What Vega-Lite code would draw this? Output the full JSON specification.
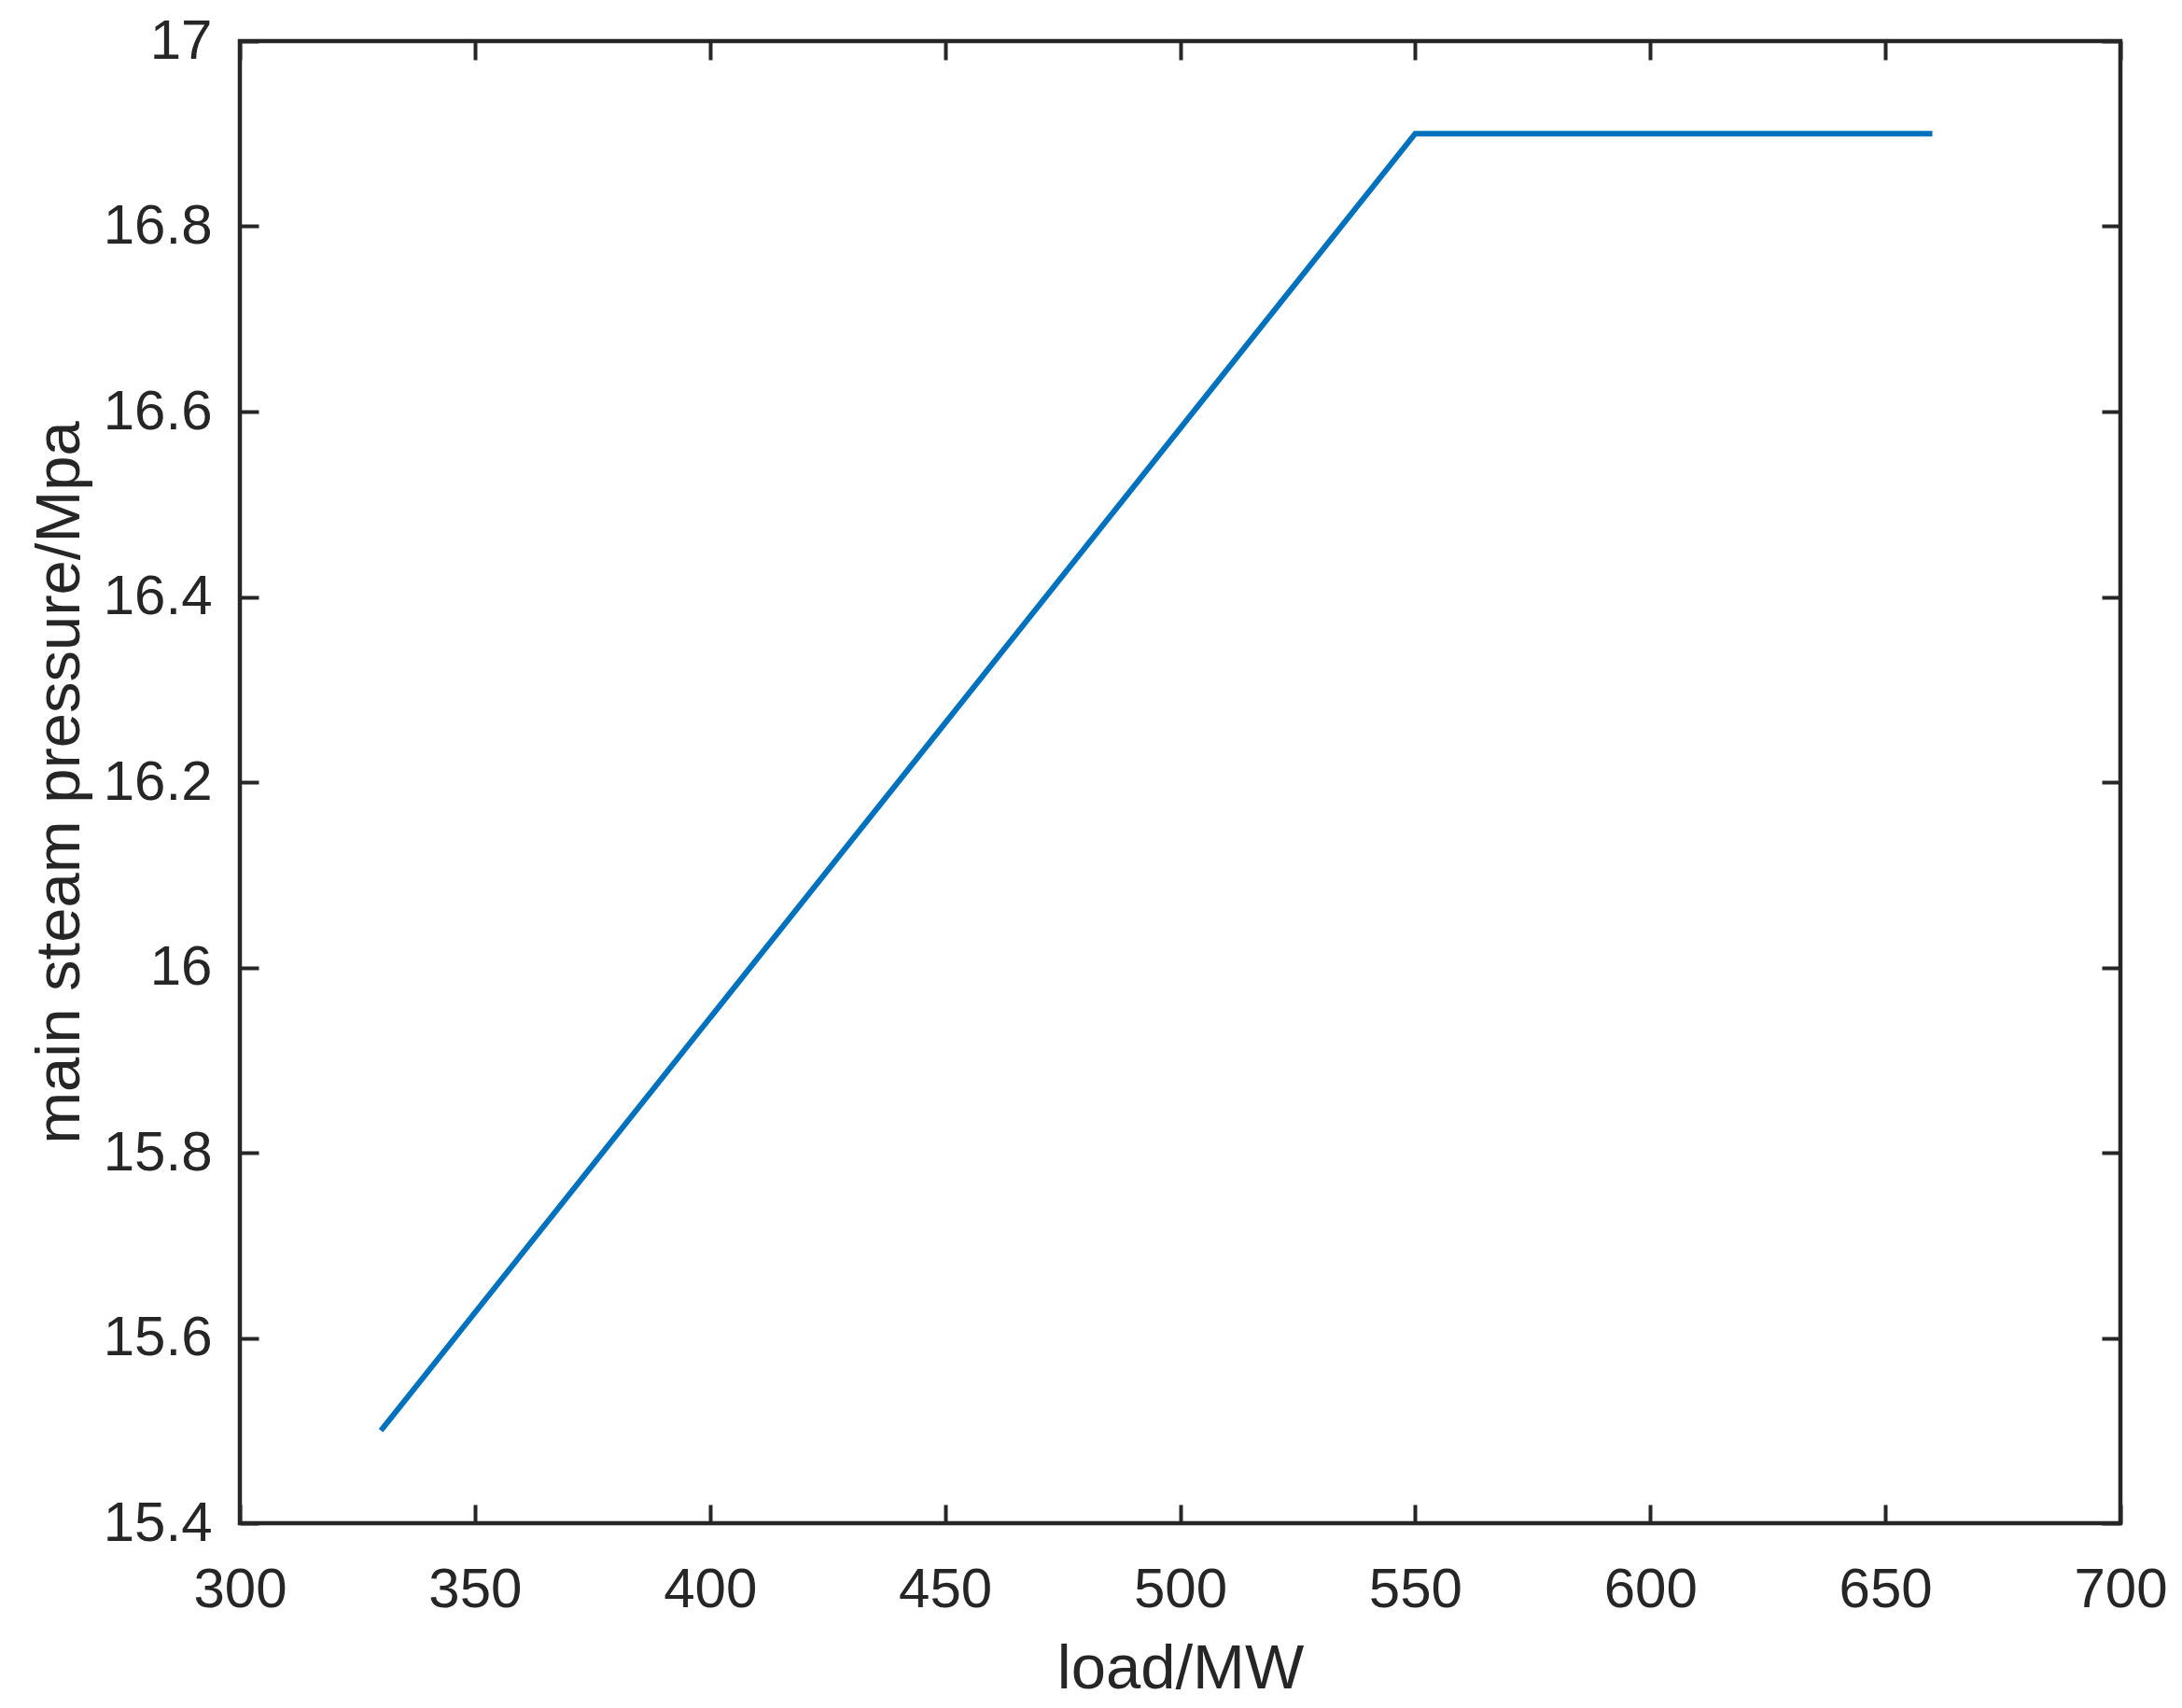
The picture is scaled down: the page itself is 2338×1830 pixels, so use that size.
{
  "$schema": "https://vega.github.io/schema/vega-lite/v6.json",
  "width": 2015,
  "height": 1588,
  "autosize": "none",
  "padding": {"left": 257, "top": 44, "right": 66, "bottom": 198},
  "background": "white",
  "config": {
    "view": {"stroke": "#262626", "strokeWidth": 4.5},
    "font": "Liberation Sans",
    "axis": {
      "grid": false,
      "domain": false,
      "ticks": true,
      "tickSize": -20,
      "tickWidth": 4,
      "tickColor": "#262626",
      "labelFont": "Liberation Sans",
      "labelFontSize": 60,
      "labelColor": "#262626",
      "titleFont": "Liberation Sans",
      "titleFontSize": 67,
      "titleFontWeight": "normal",
      "titleColor": "#262626"
    }
  },
  "data": {"values": [
    {"load": 330, "pressure": 15.5},
    {"load": 550, "pressure": 16.9},
    {"load": 660, "pressure": 16.9}
  ]},
  "layer": [
    {
      "mark": {"type": "line", "color": "#0072BD", "strokeWidth": 6},
      "encoding": {
        "x": {"field": "load", "type": "quantitative",
              "scale": {"domain": [300, 700], "nice": false, "zero": false},
              "axis": {"title": "load/MW", "values": [300, 350, 400, 450, 500, 550, 600, 650, 700], "labelPadding": 62, "titlePadding": 22, "labelFlush": false}},
        "y": {"field": "pressure", "type": "quantitative",
              "scale": {"domain": [15.4, 17], "nice": false, "zero": false},
              "axis": {"title": "main steam pressure/Mpa", "values": [15.4, 15.6, 15.8, 16, 16.2, 16.4, 16.6, 16.8, 17], "format": "~g", "labelPadding": 50, "titlePadding": 12, "labelFlush": false}}
      }
    },
    {
      "mark": {"type": "line", "opacity": 0},
      "encoding": {
        "x": {"field": "load", "type": "quantitative",
              "axis": {"orient": "top", "labels": false, "title": null, "values": [300, 350, 400, 450, 500, 550, 600, 650, 700]}},
        "y": {"field": "pressure", "type": "quantitative",
              "axis": {"orient": "right", "labels": false, "title": null, "values": [15.4, 15.6, 15.8, 16, 16.2, 16.4, 16.6, 16.8, 17]}}
      }
    }
  ],
  "resolve": {"axis": {"x": "independent", "y": "independent"}}
}
